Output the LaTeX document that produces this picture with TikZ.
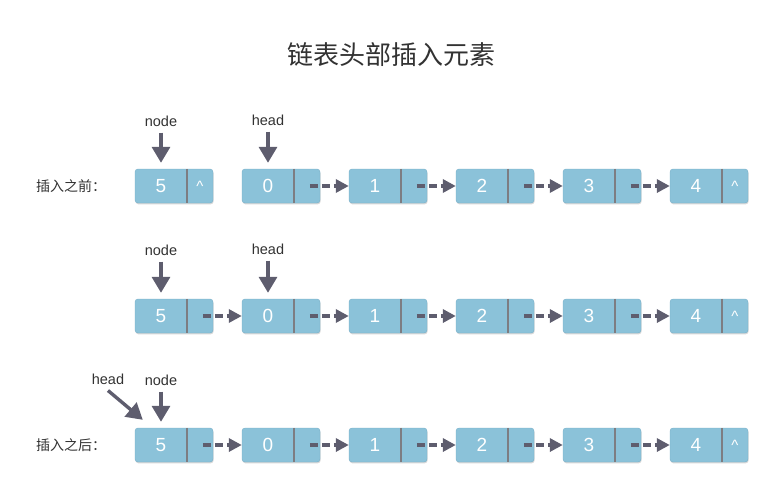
\documentclass[tikz,border=0pt]{standalone}
\usepackage{fontspec}
\setmainfont{Liberation Sans}
\newfontfamily\cjk{Noto Sans CJK SC}
\usetikzlibrary{arrows.meta,positioning,calc,shadows}
\definecolor{boxblue}{RGB}{139,194,217}
\definecolor{boxedge}{RGB}{120,175,200}
\definecolor{splitgray}{RGB}{125,125,130}
\definecolor{arrowink}{RGB}{94,93,110}
\definecolor{labelink}{RGB}{50,50,50}
\colorlet{boxshade}{black!30}

\begin{document}
\begin{tikzpicture}[
  x=1pt, y=-1pt,
  cell/.style={draw=boxedge, fill=boxblue, rounded corners=3pt,
    minimum width=78pt, minimum height=34pt, inner sep=0pt,
    drop shadow={shadow xshift=0.6pt, shadow yshift=-1.4pt, fill=boxshade, opacity=0.5}},
  num/.style={minimum width=52pt, minimum height=34pt, inner sep=0pt,
    text=white, font=\fontsize{19}{19}\selectfont},
  nullmark/.style={text=white, font=\fontsize{15}{15}\selectfont},
  split/.style={splitgray, line width=1.6pt},
  link/.style={arrowink, line width=3.6pt, dash pattern=on 8pt off 4pt,
    -{Triangle[length=13pt,width=13pt]}},
  ptr/.style={arrowink, line width=3.4pt,
    -{Triangle[length=16pt,width=18pt]}},
  ptrlabel/.style={text=labelink, font=\fontsize{14.5}{14.5}\selectfont, inner sep=0pt},
  rowlabel/.style={text=labelink, font=\cjk\fontsize{14}{14}\selectfont, anchor=west, inner sep=0pt},
]
  \useasboundingbox (0,0) rectangle (782,483);

  \node[font=\cjk\fontsize{26}{26}\selectfont, text=labelink] (title) at (391,55) {链表头部插入元素};

  % three rows of list cells
  \foreach \tag/\y in {pre/186, mid/316, post/445} {
    \foreach \v/\x in {5/135, 0/242, 1/349, 2/456, 3/563, 4/670} {
      \node[cell] (\tag\v) at (\x+39,\y) {};
      \draw[split] ($(\tag\v.north west)+(52,0)$) -- ($(\tag\v.south west)+(52,0)$);
      \node[num] (\tag\v-val) at ($(\tag\v.west)+(26,0)$) {\v};
      \coordinate (\tag\v-ptr) at ($(\tag\v.west)+(65,0)$);
    }
    \foreach \a/\b in {0/1, 1/2, 2/3, 3/4} {
      \draw[link] ($(\tag\a-ptr)+(3,0)$) -- (\tag\b.west);
    }
    \node[nullmark] (\tag4-null) at (\tag4-ptr) {\textasciicircum};
  }
  \foreach \tag in {mid, post} {
    \draw[link] ($(\tag5-ptr)+(3,0)$) -- (\tag0.west);
  }
  \node[nullmark] (pre5-null) at (pre5-ptr) {\textasciicircum};

  % row labels
  \node[rowlabel] (preLabel) at (36,186) {插入之前：};
  \node[rowlabel] (postLabel) at (36,445) {插入之后：};

  % pointers
  \node[ptrlabel] (preNode) at (161,121) {node};
  \node[ptrlabel] (preHead) at (268,120) {head};
  \draw[ptr, shorten <=6pt, shorten >=6pt] (preNode.south) -- (preNode.south |- pre5.north);
  \draw[ptr, shorten <=6pt, shorten >=6pt] (preHead.south) -- (preHead.south |- pre0.north);

  \node[ptrlabel] (midNode) at (161,250) {node};
  \node[ptrlabel] (midHead) at (268,249) {head};
  \draw[ptr, shorten <=6pt, shorten >=6pt] (midNode.south) -- (midNode.south |- mid5.north);
  \draw[ptr, shorten <=6pt, shorten >=6pt] (midHead.south) -- (midHead.south |- mid0.north);

  \node[ptrlabel] (postHead) at (108,379) {head};
  \node[ptrlabel] (postNode) at (161,380) {node};
  \coordinate (postHeadTip) at ($(post5.north west)+(8,-8)$);
  \draw[ptr, shorten <=6pt, shorten >=6pt] (postNode.south) -- (postNode.south |- post5.north);
  \draw[ptr] ($(postHead.south)+(0,6)$) -- (postHeadTip);
\end{tikzpicture}
\end{document}
